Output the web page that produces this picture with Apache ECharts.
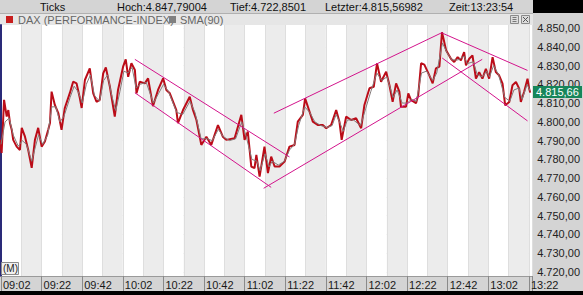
<!DOCTYPE html>
<html><head><meta charset="utf-8">
<script src="https://cdn.jsdelivr.net/npm/echarts@6/dist/echarts.min.js"></script>
<style>html,body{margin:0;padding:0;background:#fff}#c{width:583px;height:295px}</style>
</head><body><div id="c"></div>
<script>
// ---- data (minutes after 09:02, index points) ----
const startMinute = 9 * 60 + 2;
const timeLabels = ['09:02','09:22','09:42','10:02','10:22','10:42','11:02','11:22','11:42','12:02','12:22','12:42','13:02','13:22'];
const priceTimes = [
  0,0.8,2.0,3.3,4.1,4.9,5.8,6.5,8.2,9.8,
  10.7,12.3,13.9,15.6,17.2,18.8,20.5,22.1,23.7,24.6,
  25.4,27.0,28.7,30.3,31.9,34.4,36.0,37.7,39.3,40.2,
  41.8,44.2,45.9,47.5,49.1,50.8,52.1,54.1,56.5,58.1,
  60.6,61.9,63.1,64.7,66.4,67.2,68.8,71.3,72.9,75.3,
  77.8,80.3,81.9,83.6,86.8,87.6,90.1,93.4,95.0,96.7,
  99.1,101.6,104.0,107.3,109.7,111.4,115.5,118.8,120.4,122.0,
  123.7,125.3,126.2,127.8,130.2,131.9,133.5,135.2,137.6,140.1,
  142.5,145.0,146.6,149.1,150.2,152.4,154.0,156.4,158.9,160.6,
  163.0,165.5,167.1,168.2,170.4,172.9,175.3,177.8,179.4,181.9,
  184.0,185.6,187.6,190.1,191.7,193.3,195.0,196.6,197.4,199.9,
  201.0,202.3,204.8,205.9,207.3,208.9,211.3,213.0,214.6,216.3,
  217.6,219.6,222.0,223.6,225.3,226.9,228.5,229.4,231.0,232.6,
  234.3,235.9,237.5,239.2,240.8,242.5,244.1,245.7,247.4,248.7,
  250.7,252.3,254.0,255.6,256.4,258.0,259.7,260.5,261.0
];
const priceValues = [
  4790.4,4783.4,4811.7,4802.8,4806.3,4799.4,4795.7,4790.4,4786.8,4785.0,
  4796.8,4792.1,4785.0,4775.5,4790.4,4796.8,4786.8,4789.5,4795.7,4799.4,
  4816.1,4809.0,4804.7,4795.7,4807.4,4815.4,4821.4,4820.5,4812.7,4807.4,
  4822.3,4828.5,4815.2,4810.7,4811.7,4825.8,4829.0,4818.7,4802.8,4817.0,
  4829.4,4833.3,4824.0,4831.2,4827.6,4815.2,4821.4,4820.5,4823.2,4808.4,
  4817.0,4823.2,4817.0,4815.2,4806.3,4799.3,4806.3,4813.4,4806.3,4801.0,
  4787.7,4792.1,4787.7,4798.3,4792.1,4790.4,4791.3,4803.7,4790.4,4794.8,
  4776.2,4775.3,4782.4,4770.8,4786.8,4772.7,4781.5,4776.2,4776.2,4778.8,
  4786.8,4787.7,4800.1,4803.7,4812.5,4805.4,4800.1,4798.3,4798.3,4796.6,
  4798.3,4806.3,4800.1,4790.4,4802.8,4801.0,4801.9,4796.6,4809.0,4817.9,
  4818.7,4831.2,4821.4,4826.7,4819.6,4810.7,4820.5,4816.1,4808.1,4808.1,
  4815.2,4811.7,4809.9,4814.3,4831.2,4830.5,4824.9,4820.5,4828.5,4829.4,
  4847.79,4838.2,4833.6,4831.9,4834.5,4832.8,4837.2,4830.1,4833.6,4835.4,
  4823.0,4826.5,4823.0,4828.3,4823.0,4834.5,4826.5,4824.8,4820.3,4808.8,
  4810.6,4819.5,4821.2,4817.7,4810.6,4815.9,4823.0,4817.7,4815.57
];
const smaTimes = [
  0.5,2.5,4.5,6.5,9,11,13,15.6,17.5,19,
  21,23.5,25.5,27.5,29.5,31.5,34.5,36.5,38.5,40.5,
  42.5,44.5,46.5,49,51,53,55,57,59,61,
  63,65,67,69,72,75.5,78,80.5,83,87,
  90,93.5,96,99,102,104.5,107.5,110,113,116,
  119,121,124,126.5,128,130.5,132.5,134,137,140,
  142.5,145,147,150,152.5,155,158,161,163.5,165.5,
  167.5,169,171,174,177.5,180,182.5,185.5,188,190.5,
  193.5,195.5,198,200.5,202.5,205,207.5,210,213,215,
  217.8,220,222.5,225.5,228.5,230,233,235,237.5,239.5,
  241,243,245.5,248.5,251,253,255.5,257,259.5,261
];
const smaValues = [
  4788,4800,4802,4793,4787,4790,4788,4779,4787,4793,
  4788,4793,4808,4808,4800,4803,4813,4819,4816,4810,
  4820,4825,4814,4811,4822,4825,4814,4806,4816,4827,
  4826,4829,4818,4820,4821,4810,4815,4820,4816,4805,
  4804,4811,4805,4791,4791,4790,4796,4792,4790,4791,
  4800,4793,4780,4779,4774,4783,4776,4779,4777,4779,
  4785,4788,4798,4808,4805,4800,4798,4797,4798,4804,
  4799,4795,4801,4801,4798,4807,4816,4826,4822,4824,
  4813,4817,4810,4810,4812,4811,4826,4827,4822,4826,
  4842,4837,4833,4833,4835,4831,4832,4825,4824,4827,
  4824,4830,4825,4813,4811,4817,4818,4812,4820,4816.5
];
// trend lines: [startTime, startValue, endTime, endValue]
const trendLines = [
  [66.4, 4833.3, 142.5, 4781.3],
  [66.4, 4815.5, 133.5, 4765.1],
  [129.8, 4764.6, 237.4, 4833.3],
  [134.8, 4804.6, 217.7, 4847.6],
  [217.7, 4847.3, 259.7, 4827.4],
  [217.7, 4834.0, 259.7, 4800.5]
];
const yMin = 4720, yMax = 4850, yStep = 10;
const xMax = 261.5;
const lastLabelValue = 4815.66;
const headerTexts = ['Ticks', 'Hoch:4.847,79004', 'Tief:4.722,8501', 'Letzter:4.815,56982', 'Zeit:13:23:54'];
const legendNames = ['DAX (PERFORMANCE-INDEX)', 'SMA(90)'];

// ---- chart ----
const FONT = 'Arial, "Liberation Sans", sans-serif';
const fmtNum = v => { const s = Number(v).toFixed(2); const p = s.split('.'); return p[0].replace(/\B(?=(\d{3})+(?!\d))/g, '.') + ',' + p[1]; };
const chart = echarts.init(document.getElementById('c'), null, { renderer: 'svg', width: 583, height: 295 });

const trendSeries = trendLines.map(l => ({
  type: 'line', xAxisIndex: 2, yAxisIndex: 0, symbol: 'none', silent: true, z: 5,
  lineStyle: { color: '#d3148c', width: 1 },
  data: [[l[0], l[1]], [l[2], l[3]]]
}));

chart.setOption({
  animation: false,
  backgroundColor: '#ffffff',
  grid: [
    { left: 0, right: 51, top: 25, bottom: 19 },
    { left: 0, right: 51, top: 28, bottom: 23 }
  ],
  xAxis: [
    { gridIndex: 0, type: 'value', position: 'top', min: 0, max: xMax, interval: 10,
      axisLine: { show: false }, axisTick: { show: false }, axisLabel: { show: false },
      splitLine: { show: true, lineStyle: { color: '#dedede', width: 1 } },
      splitArea: { show: true, areaStyle: { color: ['#ffffff', '#ececec'] } } },
    { gridIndex: 0, type: 'value', position: 'bottom', min: 0, max: xMax, interval: 20,
      axisLine: { show: true, lineStyle: { color: '#9a9a9a', width: 1 } },
      axisTick: { show: true, length: 15, lineStyle: { color: '#8a8a8a' } },
      axisLabel: { show: true, margin: 3, align: 'left', padding: [0, 0, 0, 2], fontSize: 11, fontFamily: FONT, color: '#1a1a1a',
        formatter: v => (Math.abs(v % 20) < 1e-6 ? (timeLabels[Math.round(v / 20)] || '') : '') },
      splitLine: { show: false } },
    { gridIndex: 1, type: 'value', min: 0, max: xMax, show: false }
  ],
  yAxis: [
    { gridIndex: 1, type: 'value', position: 'right', min: yMin, max: yMax, interval: yStep,
      axisLine: { show: false }, axisTick: { show: false },
      axisLabel: { margin: 6, fontSize: 11, fontFamily: FONT, color: '#222222', formatter: fmtNum },
      splitLine: { show: true, lineStyle: { color: '#d6d6d6', width: 1 } } },
    { gridIndex: 0, type: 'value', position: 'right', min: 0, max: 1,
      axisLine: { show: true, lineStyle: { color: '#2a2a78', width: 2 } },
      axisTick: { show: false }, axisLabel: { show: false }, splitLine: { show: false } }
  ],
  series: [
    { name: legendNames[0], type: 'line', xAxisIndex: 2, yAxisIndex: 0, symbol: 'none', z: 3,
      lineStyle: { color: '#bb0c18', width: 2 },
      data: priceTimes.map((t, i) => [t, priceValues[i]]) },
    { name: legendNames[1], type: 'line', xAxisIndex: 2, yAxisIndex: 0, symbol: 'none', z: 4,
      lineStyle: { color: '#857a7a', width: 1 },
      data: smaTimes.map((t, i) => [t, smaValues[i]]) }
  ].concat(trendSeries)
});

const yp = chart.convertToPixel({ yAxisIndex: 0 }, lastLabelValue);
const txt = (x, y, s, fill, size, z) => ({ type: 'text', x: x, y: y, z: z || 100,
  style: { text: s, fill: fill, font: (size || 11) + 'px ' + FONT, textAlign: 'left', textVerticalAlign: 'middle', verticalAlign: 'middle' } });
const rect = (x, y, w, h, fill, stroke, z) => ({ type: 'rect', z: z === undefined ? -10 : z,
  shape: { x: x, y: y, width: w, height: h }, style: { fill: fill, stroke: stroke || null, lineWidth: stroke ? 1 : 0 } });
const line = (x1, y1, x2, y2, color, z) => ({ type: 'line', z: z || 100,
  shape: { x1: x1, y1: y1, x2: x2, y2: y2 }, style: { stroke: color, lineWidth: 1 } });

chart.setOption({
  graphic: [
    rect(0, 0, 533, 13, '#d4d4d4'),
    rect(533, 0, 50, 13, '#000000'),
    rect(0, 13, 533, 12, '#e6e6e6'),
    line(0, 13.5, 533, 13.5, '#b0b0b0', 1),
    rect(533, 13, 50, 263, '#d4d4d4'),
    rect(0, 276, 583, 15, '#d4d4d4'),
    rect(0, 291, 583, 4, '#000000'),
    txt(40, 6.5, headerTexts[0], '#111111'),
    txt(117, 6.5, headerTexts[1], '#111111'),
    txt(230, 6.5, headerTexts[2], '#111111'),
    txt(325, 6.5, headerTexts[3], '#111111'),
    txt(449, 6.5, headerTexts[4], '#111111'),
    rect(6, 16, 7, 7, '#c81e1e', null, 100),
    txt(18, 19.5, legendNames[0], '#666666'),
    rect(169, 16, 7, 7, '#808080', null, 100),
    txt(180, 19.5, legendNames[1], '#666666'),
    rect(510.5, 15.5, 8, 8, '#dcdcdc', '#8a8a8a', 100),
    line(512.5, 17.5, 516.5, 17.5, '#777777', 101),
    line(512.5, 19.5, 516.5, 19.5, '#777777', 101),
    line(512.5, 21.5, 516.5, 21.5, '#777777', 101),
    rect(521.5, 15.5, 8, 8, '#dcdcdc', '#8a8a8a', 100),
    line(523, 17, 528, 22, '#555555', 101),
    line(528, 17, 523, 22, '#555555', 101),
    rect(1.5, 262.5, 17, 12, '#f0f0f0', '#8c8c8c', 100),
    txt(3, 268.5, '(M)', '#222222', 10, 101),
    rect(533, Math.round(yp) - 6, 49, 12, '#17865a', null, 100),
    txt(536, Math.round(yp), fmtNum(lastLabelValue), '#ffffff', 11, 101)
  ]
});
</script>
</body></html>
